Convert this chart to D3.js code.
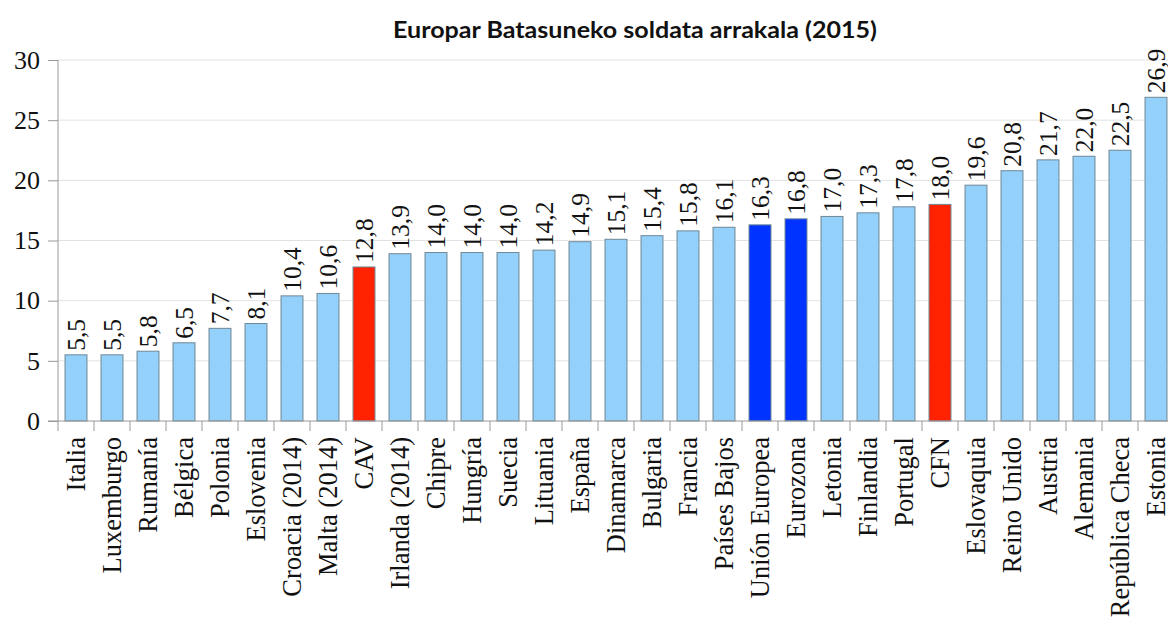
<!DOCTYPE html>
<html>
<head>
<meta charset="utf-8">
<script src="https://cdn.jsdelivr.net/npm/d3@7"></script>
<style>
  html, body { margin: 0; padding: 0; background: #fff; overflow: hidden; }
</style>
</head>
<body>
<div id="chart"></div>
<script>
// datos
var countries = ["Italia", "Luxemburgo", "Rumanía", "Bélgica", "Polonia", "Eslovenia",
    "Croacia (2014)", "Malta (2014)", "CAV", "Irlanda (2014)", "Chipre", "Hungría", "Suecia",
    "Lituania", "España", "Dinamarca", "Bulgaria", "Francia", "Países Bajos", "Unión Europea",
    "Eurozona", "Letonia", "Finlandia", "Portugal", "CFN", "Eslovaquia", "Reino Unido",
    "Austria", "Alemania", "República Checa", "Estonia"];
var gapValues = [5.5, 5.5, 5.8, 6.5, 7.7, 8.1, 10.4, 10.6, 12.8, 13.9, 14.0, 14.0, 14.0,
    14.2, 14.9, 15.1, 15.4, 15.8, 16.1, 16.3, 16.8, 17.0, 17.3, 17.8, 18.0, 19.6, 20.8,
    21.7, 22.0, 22.5, 26.9];
var redBars = ["CAV", "CFN"];
var blueBars = ["Unión Europea", "Eurozona"];
var yTicks = [0, 5, 10, 15, 20, 25, 30];

var width = 1168, height = 623;
var margin = {top: 60, left: 58, bottom: 202};
var serif = "'Liberation Serif', 'Times New Roman', serif";

var svg = d3.select("#chart")
    .append("svg")
    .attr("width", width)
    .attr("height", height);

var x = d3.scaleBand()
    .domain(countries)
    .range([margin.left, margin.left + 36 * countries.length])
    .paddingInner(0.39)
    .paddingOuter(0.195);

var y = d3.scaleLinear()
    .domain([0, 30])
    .range([height - margin.bottom, margin.top]);

// titulo
svg.append("text")
    .attr("x", 635)
    .attr("y", 38)
    .attr("text-anchor", "middle")
    .attr("textLength", 484)
    .attr("lengthAdjust", "spacingAndGlyphs")
    .style("font-family", "Lato, 'Open Sans', sans-serif")
    .style("font-weight", "bold")
    .style("font-size", "22px")
    .style("fill", "#111")
    .text("Europar Batasuneko soldata arrakala (2015)");

// rejilla
svg.append("g")
    .selectAll("line")
    .data(yTicks.slice(1))
    .enter()
    .append("line")
    .attr("x1", margin.left)
    .attr("x2", width)
    .attr("y1", function (d) { return y(d); })
    .attr("y2", function (d) { return y(d); })
    .style("stroke", "#e2e2e2")
    .style("stroke-width", 1);

// eje y
var yAxis = d3.axisLeft(y)
    .tickValues(yTicks)
    .tickSize(10)
    .tickPadding(8)
    .tickFormat(function (d) { return d; });

var yG = svg.append("g")
    .attr("transform", "translate(" + margin.left + ",0)")
    .call(yAxis);
yG.select(".domain").remove();
yG.append("line")
    .attr("x1", 0).attr("x2", 0)
    .attr("y1", y(30)).attr("y2", y(0))
    .style("stroke", "#999");
yG.selectAll(".tick line").style("stroke", "#999");
yG.selectAll(".tick text")
    .style("font-family", serif)
    .style("font-size", "26px")
    .style("fill", "#111");

// barras
svg.append("g")
    .selectAll("rect")
    .data(gapValues)
    .enter()
    .append("rect")
    .attr("x", function (d, i) { return x(countries[i]); })
    .attr("y", function (d) { return y(d); })
    .attr("width", x.bandwidth())
    .attr("height", function (d) { return y(0) - y(d); })
    .style("fill", function (d, i) {
        if (redBars.indexOf(countries[i]) >= 0) return "#ff2200";
        if (blueBars.indexOf(countries[i]) >= 0) return "#0033ff";
        return "#93d1fb";
    })
    .style("stroke", "#6f8796")
    .style("stroke-width", 1);

// valores
svg.append("g")
    .selectAll("text")
    .data(gapValues)
    .enter()
    .append("text")
    .attr("transform", function (d, i) {
        return "translate(" + (x(countries[i]) + x.bandwidth() / 2) + "," + (y(d) - 4) + ") rotate(-90)";
    })
    .attr("dy", "0.35em")
    .style("font-family", serif)
    .style("font-size", "25.5px")
    .style("fill", "#111")
    .text(function (d) { return d.toFixed(1).replace(".", ","); });

// eje x
var xAxis = d3.axisBottom(x).tickSize(0).tickFormat("");
var xG = svg.append("g")
    .attr("transform", "translate(0," + y(0) + ")")
    .call(xAxis);
xG.select(".domain").remove();
xG.append("line")
    .attr("x1", margin.left - 10).attr("x2", width)
    .attr("y1", 0).attr("y2", 0)
    .style("stroke", "#999");

xG.selectAll(".sep")
    .data(countries)
    .enter()
    .append("line")
    .attr("class", "sep")
    .attr("x1", function (d) { return x(d) - x.step() * x.paddingInner() / 2; })
    .attr("x2", function (d) { return x(d) - x.step() * x.paddingInner() / 2; })
    .attr("y1", 0)
    .attr("y2", 10)
    .style("stroke", "#999");

xG.selectAll(".lbl")
    .data(countries)
    .enter()
    .append("text")
    .attr("class", "lbl")
    .attr("transform", function (d) {
        return "translate(" + (x(d) + x.bandwidth() / 2) + ",16) rotate(-90)";
    })
    .attr("dy", "0.35em")
    .attr("text-anchor", "end")
    .style("font-family", serif)
    .style("font-size", "26.5px")
    .style("fill", "#111")
    .text(function (d) { return d; });
</script>
</body>
</html>
